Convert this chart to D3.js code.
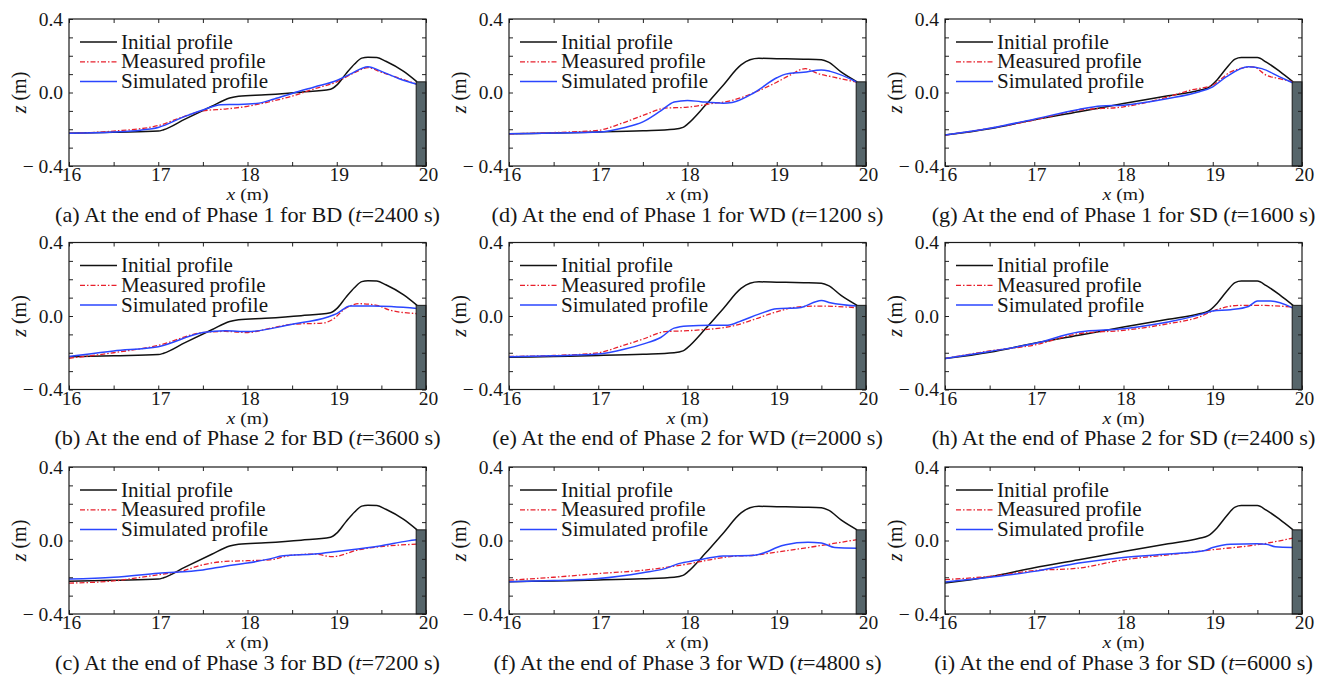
<!DOCTYPE html>
<html>
<head>
<meta charset="utf-8">
<script src="https://cdn.jsdelivr.net/npm/d3@7"></script>
<style>
  body { margin: 0; background: #fff; }
  svg text { font-family: "Liberation Serif", "Times New Roman", Times, serif; fill: #161616; }
</style>
</head>
<body>
<svg id="chart" width="1327" height="677"></svg>
<script>
// ---- axis ticks and labels ----
const xLabelTicks = [16, 17, 18, 19, 20];
const xAllTicks = [16, 16.5, 17, 17.5, 18, 18.5, 19, 19.5, 20];
const zLabelTicks = [-0.4, 0.0, 0.4];
const zAllTicks = [-0.4, -0.3, -0.2, -0.1, 0.0, 0.1, 0.2, 0.3, 0.4];
const seriesNames = ["Initial profile", "Measured profile", "Simulated profile"];

// seawall at the landward end: x extent (m) and crest level (m)
const wallX = [19.89, 20.0];
const wallTop = 0.058;

// ---- initial profiles, [x (m), z (m)] ----
const initialBD = [[16,-0.222],[16.5,-0.216],[17.0,-0.21],[17.06,-0.203],[17.3,-0.145],[17.6,-0.075],[17.8,-0.03],[17.9,-0.02],[18.2,-0.012],[18.6,0.002],[18.93,0.018],[19.0,0.04],[19.1,0.1],[19.2,0.155],[19.28,0.187],[19.35,0.192],[19.45,0.19],[19.55,0.17],[19.75,0.115],[19.9,0.058]];
const initialWD = [[16,-0.225],[16.5,-0.22],[17.0,-0.215],[17.5,-0.208],[17.85,-0.2],[17.95,-0.19],[18.0,-0.172],[18.2,-0.07],[18.4,0.04],[18.6,0.15],[18.7,0.178],[18.8,0.186],[19.0,0.184],[19.3,0.181],[19.5,0.178],[19.58,0.165],[19.72,0.112],[19.9,0.058]];
const initialSD = [[16,-0.232],[16.5,-0.197],[17.0,-0.148],[17.5,-0.105],[18.0,-0.06],[18.5,-0.018],[18.85,0.012],[18.95,0.026],[19.05,0.07],[19.15,0.13],[19.25,0.182],[19.32,0.19],[19.5,0.19],[19.6,0.165],[19.75,0.115],[19.9,0.058]];

// ---- measured profiles ----
const measuredA = [[16,-0.222],[16.5,-0.21],[17.0,-0.18],[17.3,-0.128],[17.5,-0.1],[17.75,-0.09],[18.0,-0.075],[18.25,-0.05],[18.5,-0.02],[18.75,0.02],[19.0,0.058],[19.2,0.108],[19.35,0.135],[19.5,0.11],[19.7,0.078],[19.9,0.045]];
const measuredB = [[16,-0.23],[16.5,-0.2],[17.0,-0.16],[17.5,-0.09],[17.75,-0.084],[18.0,-0.09],[18.25,-0.067],[18.5,-0.045],[18.85,-0.038],[18.95,-0.02],[19.1,0.042],[19.25,0.067],[19.45,0.058],[19.6,0.031],[19.9,0.013]];
const measuredC = [[16,-0.232],[16.5,-0.22],[17.0,-0.186],[17.25,-0.168],[17.5,-0.132],[17.75,-0.114],[18.0,-0.11],[18.25,-0.105],[18.5,-0.08],[18.75,-0.074],[18.95,-0.088],[19.25,-0.05],[19.5,-0.033],[19.9,-0.02]];
const measuredD = [[16,-0.225],[16.5,-0.218],[17.0,-0.206],[17.25,-0.17],[17.5,-0.125],[17.75,-0.085],[18.0,-0.08],[18.25,-0.062],[18.5,-0.043],[18.75,0.0],[19.0,0.056],[19.15,0.095],[19.32,0.13],[19.45,0.105],[19.65,0.082],[19.9,0.056]];
const measuredE = [[16,-0.22],[16.5,-0.215],[17.0,-0.2],[17.25,-0.165],[17.5,-0.126],[17.75,-0.085],[18.0,-0.08],[18.5,-0.055],[18.75,-0.018],[19.0,0.023],[19.25,0.05],[19.5,0.054],[19.9,0.045]];
const measuredF = [[16,-0.216],[16.5,-0.2],[17.0,-0.18],[17.5,-0.162],[18.0,-0.128],[18.25,-0.105],[18.5,-0.086],[18.75,-0.08],[19.0,-0.063],[19.5,-0.027],[19.9,0.005]];
const measuredG = [[16,-0.232],[16.5,-0.195],[17.0,-0.15],[17.5,-0.096],[18.0,-0.078],[18.5,-0.024],[18.75,0.013],[19.0,0.04],[19.2,0.112],[19.45,0.14],[19.6,0.094],[19.75,0.075],[19.9,0.058]];
const measuredH = [[16,-0.232],[16.5,-0.19],[17.0,-0.158],[17.5,-0.096],[18.0,-0.078],[18.5,-0.042],[18.85,-0.005],[19.0,0.027],[19.3,0.058],[19.5,0.058],[19.9,0.049]];
const measuredI = [[16,-0.213],[16.5,-0.195],[17.0,-0.164],[17.5,-0.15],[18.0,-0.105],[18.5,-0.078],[19.0,-0.05],[19.5,-0.023],[19.9,0.013]];

// ---- simulated profiles ----
const simulatedA = [[16,-0.222],[16.5,-0.215],[16.8,-0.205],[17.0,-0.19],[17.3,-0.13],[17.5,-0.095],[17.7,-0.066],[17.9,-0.065],[18.1,-0.06],[18.3,-0.035],[18.5,-0.005],[18.75,0.03],[19.0,0.065],[19.15,0.1],[19.35,0.14],[19.5,0.115],[19.7,0.075],[19.9,0.045]];
const simulatedB = [[16,-0.22],[16.5,-0.19],[17.0,-0.167],[17.5,-0.09],[17.75,-0.08],[18.0,-0.085],[18.5,-0.045],[18.9,-0.005],[19.0,0.013],[19.15,0.054],[19.4,0.054],[19.9,0.041]];
const simulatedC = [[16,-0.21],[16.5,-0.2],[17.0,-0.178],[17.5,-0.16],[17.75,-0.14],[18.0,-0.123],[18.25,-0.1],[18.4,-0.083],[18.75,-0.074],[19.0,-0.06],[19.5,-0.029],[19.8,-0.002],[19.9,0.004]];
const simulatedD = [[16,-0.225],[16.5,-0.22],[17.0,-0.215],[17.3,-0.19],[17.5,-0.16],[17.7,-0.1],[17.85,-0.052],[18.0,-0.043],[18.15,-0.05],[18.4,-0.058],[18.5,-0.054],[18.75,0.0],[19.0,0.08],[19.1,0.1],[19.3,0.11],[19.5,0.123],[19.6,0.115],[19.9,0.056]];
const simulatedE = [[16,-0.222],[16.5,-0.216],[17.0,-0.207],[17.3,-0.18],[17.5,-0.153],[17.7,-0.117],[17.85,-0.066],[18.0,-0.054],[18.25,-0.05],[18.45,-0.05],[18.6,-0.027],[18.8,0.01],[19.0,0.04],[19.25,0.045],[19.5,0.085],[19.6,0.072],[19.9,0.054]];
const simulatedF = [[16,-0.225],[16.5,-0.218],[17.0,-0.207],[17.5,-0.175],[17.75,-0.153],[17.9,-0.126],[18.1,-0.108],[18.4,-0.085],[18.75,-0.08],[18.9,-0.06],[19.0,-0.038],[19.1,-0.023],[19.35,-0.01],[19.5,-0.014],[19.65,-0.038],[19.9,-0.042]];
const simulatedG = [[16,-0.232],[16.5,-0.195],[17.0,-0.145],[17.5,-0.092],[17.75,-0.074],[18.0,-0.069],[18.5,-0.033],[18.85,0.004],[19.0,0.031],[19.15,0.085],[19.4,0.14],[19.55,0.13],[19.75,0.085],[19.9,0.052]];
const simulatedH = [[16,-0.232],[16.5,-0.193],[17.0,-0.15],[17.5,-0.087],[18.0,-0.069],[18.5,-0.033],[18.9,0.013],[19.0,0.027],[19.2,0.034],[19.4,0.052],[19.5,0.081],[19.65,0.081],[19.9,0.043]];
const simulatedI = [[16,-0.226],[16.5,-0.2],[17.0,-0.168],[17.5,-0.123],[18.0,-0.092],[18.5,-0.074],[18.9,-0.056],[19.0,-0.038],[19.2,-0.02],[19.5,-0.018],[19.6,-0.02],[19.7,-0.034],[19.9,-0.038]];

// ---- panel captions ----
const panelLetters = ["a", "b", "c", "d", "e", "f", "g", "h", "i"];
const phaseNumbers = [1, 2, 3, 1, 2, 3, 1, 2, 3];
const caseNames = ["BD", "BD", "BD", "WD", "WD", "WD", "SD", "SD", "SD"];
const endTimes = [2400, 3600, 7200, 1200, 2000, 4800, 1600, 2400, 6000];

const initials = [initialBD, initialBD, initialBD, initialWD, initialWD, initialWD, initialSD, initialSD, initialSD];
const measureds = [measuredA, measuredB, measuredC, measuredD, measuredE, measuredF, measuredG, measuredH, measuredI];
const simulateds = [simulatedA, simulatedB, simulatedC, simulatedD, simulatedE, simulatedF, simulatedG, simulatedH, simulatedI];

// ---- layout ----
const colLeft = [69, 509, 945];
const rowTop = [19, 242.5, 467];
const plotW = 357, plotH = 147;
// widths (px) that the first caption, the first legend entry and the x title span
const captionWidth = 385;
const legendWidth = 112;
const xTitleWidth = 42;

const styles = [
  { stroke: "#111111", width: 1.5, dash: null },
  { stroke: "#e8202c", width: 1.3, dash: "5,2,1.5,2" },
  { stroke: "#2a46ff", width: 1.5, dash: null }
];

const svg = d3.select("#chart");
const serif = '"Liberation Serif", "Times New Roman", Times, serif';

function fmtZ(d) {
  if (Math.abs(d) < 1e-9) return "0.0";
  return d < 0 ? "\u2212 " + Math.abs(d).toFixed(1) : d.toFixed(1);
}

// horizontal stretch factors, from the rendered width of a sample text
function stretchFor(sample, size, target) {
  const t = svg.append("text").attr("font-size", size).attr("x", -999).attr("y", -999);
  sample(t);
  const w = t.node().getComputedTextLength();
  t.remove();
  return w > 0 ? target / w : 1;
}
const captionSize = 20, legendSize = 20, tickSize = 19.5, titleSize = 20;
const writeCaption = (t, k) => {
  t.append("tspan").text(`(${panelLetters[k]}) At the end of Phase ${phaseNumbers[k]} for ${caseNames[k]} (`);
  t.append("tspan").attr("font-style", "italic").text("t");
  t.append("tspan").text(`=${endTimes[k]} s)`);
};
const writeTitle = (t, v) => {
  t.append("tspan").attr("font-style", "italic").text(v);
  t.append("tspan").text(" (m)");
};
const capStretch = stretchFor(t => writeCaption(t, 0), captionSize, captionWidth);
const legStretch = stretchFor(t => t.text(seriesNames[0]), legendSize, legendWidth);
const xTitleStretch = stretchFor(t => writeTitle(t, "x"), titleSize, xTitleWidth);

panelLetters.forEach((letter, k) => {
  const col = Math.floor(k / 3), row = k % 3;
  const left = colLeft[col], top = rowTop[row];
  const x = d3.scaleLinear().domain([16, 20]).range([left, left + plotW]);
  const z = d3.scaleLinear().domain([-0.4, 0.4]).range([top + plotH, top]);
  const g = svg.append("g");

  const clipId = "clip-" + letter;
  g.append("clipPath").attr("id", clipId).append("rect")
    .attr("x", left).attr("y", top).attr("width", plotW).attr("height", plotH);

  // profiles
  const line = d3.line().x(d => x(d[0])).y(d => z(d[1])).curve(d3.curveMonotoneX);
  const series = [initials[k], measureds[k], simulateds[k]];
  const lines = g.append("g").attr("clip-path", `url(#${clipId})`);
  series.forEach((data, s) => {
    lines.append("path").datum(data)
      .attr("d", line)
      .attr("fill", "none")
      .attr("stroke", styles[s].stroke)
      .attr("stroke-width", styles[s].width)
      .attr("stroke-dasharray", styles[s].dash)
      .attr("stroke-linejoin", "round");
  });

  // seawall
  g.append("rect")
    .attr("x", x(wallX[0])).attr("y", z(wallTop))
    .attr("width", x(wallX[1]) - x(wallX[0]))
    .attr("height", z(-0.4) - z(wallTop))
    .attr("fill", "#56656a").attr("stroke", "#1a1a1a").attr("stroke-width", 1);

  // axes with inward ticks on all four sides
  const tickStyle = sel => {
    sel.select(".domain").remove();
    sel.attr("font-family", serif);
    sel.selectAll(".tick line").attr("stroke", "#222").attr("stroke-width", 1);
  };
  g.append("g").attr("transform", `translate(0,${top + plotH})`)
    .call(d3.axisBottom(x).tickValues(xAllTicks).tickSizeInner(-4).tickSizeOuter(0)
      .tickPadding(1).tickFormat(d => xLabelTicks.includes(d) ? d3.format("d")(d) : ""))
    .call(tickStyle)
    .call(a => a.selectAll("text").attr("font-family", serif).attr("font-size", tickSize)
      .attr("fill", "#161616").attr("dy", "0.72em").attr("dx", 2));
  g.append("g").attr("transform", `translate(0,${top})`)
    .call(d3.axisTop(x).tickValues(xAllTicks).tickSizeInner(-4).tickSizeOuter(0).tickFormat(""))
    .call(tickStyle);
  g.append("g").attr("transform", `translate(${left},0)`)
    .call(d3.axisLeft(z).tickValues(zAllTicks).tickSizeInner(-4).tickSizeOuter(0)
      .tickPadding(6).tickFormat(d => zLabelTicks.some(v => Math.abs(v - d) < 1e-9) ? fmtZ(d) : ""))
    .call(tickStyle)
    .call(a => a.selectAll("text").attr("font-family", serif).attr("font-size", tickSize)
      .attr("fill", "#161616"));
  g.append("g").attr("transform", `translate(${left + plotW},0)`)
    .call(d3.axisRight(z).tickValues(zAllTicks).tickSizeInner(-4).tickSizeOuter(0).tickFormat(""))
    .call(tickStyle);

  // frame
  g.append("rect").attr("x", left).attr("y", top).attr("width", plotW).attr("height", plotH)
    .attr("fill", "none").attr("stroke", "#1a1a1a").attr("stroke-width", 1.2);

  // legend
  const leg = g.append("g").attr("transform", `translate(${left + 11},${top + 23})`);
  seriesNames.forEach((name, s) => {
    const ly = s * 19.8;
    leg.append("line").attr("x1", 0).attr("x2", 37).attr("y1", ly).attr("y2", ly)
      .attr("stroke", styles[s].stroke).attr("stroke-width", styles[s].width)
      .attr("stroke-dasharray", styles[s].dash);
    leg.append("text")
      .attr("transform", `translate(41,${ly}) scale(${legStretch},1)`)
      .attr("dy", "0.33em").attr("font-size", legendSize).text(name);
  });

  // axis titles (the x title is set a little flattened, as printed)
  const xt = g.append("text")
    .attr("transform", `translate(${left + plotW / 2},${top + plotH + 34}) scale(${xTitleStretch},0.8)`)
    .attr("text-anchor", "middle").attr("font-size", titleSize);
  writeTitle(xt, "x");

  const zt = g.append("text")
    .attr("transform", `translate(${left - 49},${top + plotH / 2}) rotate(-90)`)
    .attr("text-anchor", "middle").attr("dy", "0.3em").attr("font-size", titleSize);
  writeTitle(zt, "z");

  // caption
  const cap = g.append("text")
    .attr("transform", `translate(${left + plotW / 2},${top + plotH + 55.5}) scale(${capStretch},1)`)
    .attr("text-anchor", "middle").attr("font-size", captionSize);
  writeCaption(cap, k);
});
</script>
</body>
</html>
